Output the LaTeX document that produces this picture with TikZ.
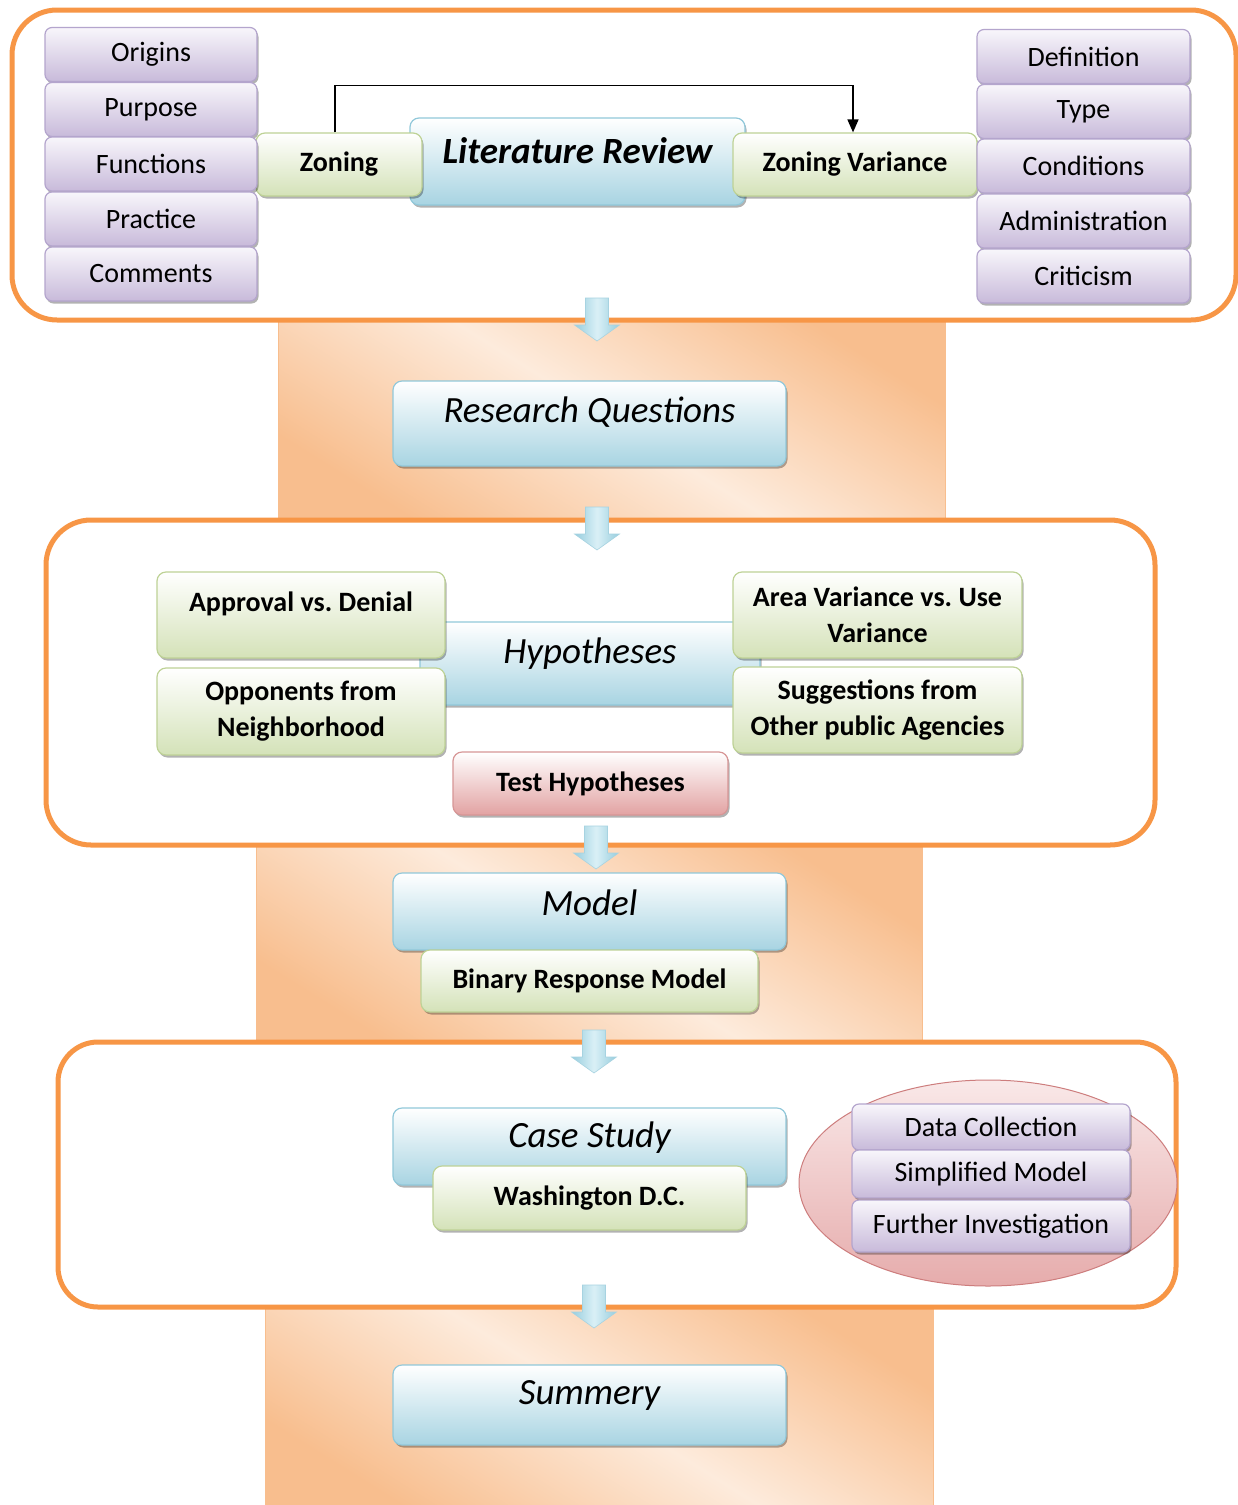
\documentclass[tikz,border=0pt]{standalone}
\usepackage{fontspec}
\setmainfont{Carlito}
\usetikzlibrary{shadows,arrows.meta,shapes.geometric}
\definecolor{frameor}{RGB}{247,150,70}
\definecolor{peachL}{RGB}{253,235,220}
\definecolor{peachD}{RGB}{248,190,142}
\definecolor{blueB}{RGB}{168,212,226}
\definecolor{blueE}{RGB}{145,200,218}
\definecolor{greenB}{RGB}{212,226,184}
\definecolor{greenE}{RGB}{190,210,150}
\definecolor{purpT}{RGB}{248,246,251}
\definecolor{purpB}{RGB}{200,186,218}
\definecolor{purpE}{RGB}{180,165,205}
\definecolor{pinkB}{RGB}{226,162,162}
\definecolor{pinkE}{RGB}{215,150,150}
\definecolor{ellT}{RGB}{249,232,232}
\definecolor{ellB}{RGB}{230,172,172}
\definecolor{ellE}{RGB}{205,125,125}
\definecolor{arT}{RGB}{218,240,246}
\definecolor{arB}{RGB}{150,205,222}
\newcommand\liftt[2]{\raisebox{#1}[\height][\depth]{#2}}
\newcommand\dnarr[2]{\draw[arrowfill] (#1-11.5,#2) -- (#1+11.5,#2) -- (#1+11.5,#2+27) -- (#1+22.5,#2+27) -- (#1,#2+43) -- (#1-22.5,#2+27) -- (#1-11.5,#2+27) -- cycle;}
\begin{document}
\begin{tikzpicture}[x=1pt,y=-1pt,
 mybox/.style={rounded corners=9pt, inner sep=2pt, line width=1.2pt, align=center,
   drop shadow={shadow xshift=1.5pt,shadow yshift=-2.5pt,opacity=0.3,fill=black}},
 bluebox/.style={mybox, draw=blueE, top color=white, bottom color=blueB, font=\itshape\fontsize{37}{40}\selectfont},
 greenbox/.style={mybox, draw=greenE, top color=white, bottom color=greenB, font=\bfseries\fontsize{28}{36}\selectfont},
 purplebox/.style={mybox, rounded corners=7pt, draw=purpE, top color=purpT, bottom color=purpB, font=\fontsize{28}{32}\selectfont},
 pinkbox/.style={mybox, draw=pinkE, top color=white, bottom color=pinkB, font=\bfseries\fontsize{28}{32}\selectfont},
 orframe/.style={draw=frameor, line width=5pt, fill=white},
 peach/.style={draw=peachD, line width=1pt, top color=peachD, bottom color=peachD, middle color=peachL, shading angle=-32},
 arrowfill/.style={draw=blueE!80, line width=0.6pt, left color=arB, right color=arB, middle color=arT},
]
\useasboundingbox (0,0) rectangle (1238,1505);
% peach backgrounds
\draw[peach] (278,320) rectangle (945,520);
\draw[peach] (256,845) rectangle (922,1045);
\draw[peach] (265,1305) rectangle (933,1505);
% frames
\draw[orframe, rounded corners=45pt] (12,10) rectangle (1236,320);
\draw[orframe, rounded corners=45pt] (46,520) rectangle (1155,845);
\draw[orframe, rounded corners=40pt] (58,1042) rectangle (1176,1307);
% --- Literature review frame
\node[bluebox, minimum width=335pt, minimum height=87pt] (lr) at (577.5,161.5) {\liftt{11pt}{\bfseries Literature Review}};
\node[greenbox, minimum width=166pt, minimum height=63pt] (zon) at (339,164.5) {Zoning};
\node[greenbox, minimum width=244pt, minimum height=63pt] (zv) at (855,164.5) {Zoning Variance};
\draw[line width=1.5pt, -{Triangle[width=11pt,length=13pt]}] ([xshift=-4pt]zon.north) -- ++(0,-47) coordinate (cturn) -| ([xshift=-2pt]zv.north);
\node[purplebox, minimum width=212pt, minimum height=54pt] (origins) at (151,54.5) {Origins};
\node[purplebox, minimum width=212pt, minimum height=54pt] (purpose) at (151,109.5) {Purpose};
\node[purplebox, minimum width=212pt, minimum height=54pt] (functions) at (151,164) {Functions};
\node[purplebox, minimum width=212pt, minimum height=54pt] (practice) at (151,219) {Practice};
\node[purplebox, minimum width=212pt, minimum height=54pt] (comments) at (151,274) {Comments};
\node[purplebox, minimum width=213pt, minimum height=54pt] (definition) at (1083.5,56.5) {Definition};
\node[purplebox, minimum width=213pt, minimum height=54pt] (type) at (1083.5,111.5) {Type};
\node[purplebox, minimum width=213pt, minimum height=54pt] (conditions) at (1083.5,166) {Conditions};
\node[purplebox, minimum width=213pt, minimum height=54pt] (admin) at (1083.5,221) {Administration};
\node[purplebox, minimum width=213pt, minimum height=54pt] (criticism) at (1083.5,276) {Criticism};
% --- Research questions
\node[bluebox, minimum width=393pt, minimum height=85pt] (rq) at (589.5,423.5) {\liftt{11pt}{Research Questions}};
% --- Hypotheses frame
\node[bluebox, minimum width=340pt, minimum height=83pt] (hyp) at (590,663.5) {\liftt{10pt}{Hypotheses}};
\node[greenbox, minimum width=288pt, minimum height=86pt] (app) at (301,615) {\liftt{11pt}{Approval vs.\ Denial}};
\node[greenbox, minimum width=288pt, minimum height=87pt] (opp) at (301,711.5) {Opponents from\\Neighborhood};
\node[greenbox, minimum width=289pt, minimum height=86pt] (area) at (877.5,615) {Area Variance vs.\ Use\\Variance};
\node[greenbox, minimum width=289pt, minimum height=86pt] (sug) at (877.5,710) {Suggestions from\\Other public Agencies};
\node[pinkbox, minimum width=275pt, minimum height=63pt] (th) at (590.5,783.5) {Test Hypotheses};
% --- Model
\node[bluebox, minimum width=393pt, minimum height=77pt] (model) at (589.5,911.5) {\liftt{9pt}{Model}};
\node[greenbox, minimum width=337pt, minimum height=62pt] (brm) at (589.5,981) {Binary Response Model};
% --- Case study frame
\node[bluebox, minimum width=393pt, minimum height=77pt] (cs) at (589.5,1146.5) {\liftt{9pt}{Case Study}};
\node[greenbox, minimum width=313pt, minimum height=64pt] (wdc) at (589.5,1198) {Washington D.C.};
\node[ellipse, draw=ellE, line width=1pt, top color=ellT, bottom color=ellB, minimum width=378pt, minimum height=206pt] (ell) at (988,1183) {};
\node[purplebox, minimum width=278pt, minimum height=46pt] (dc) at (991,1127) {Data Collection};
\node[purplebox, minimum width=278pt, minimum height=48pt] (sm) at (991,1174) {Simplified Model};
\node[purplebox, minimum width=278pt, minimum height=52pt] (fi) at (991,1226) {Further Investigation};
% --- Summary
\node[bluebox, minimum width=393pt, minimum height=80pt] (sum) at (589.5,1405) {\liftt{10pt}{Summery}};
% block arrows
\dnarr{597}{298}
\dnarr{597}{507}
\dnarr{596}{826}
\dnarr{594}{1030}
\dnarr{594}{1285}
\end{tikzpicture}
\end{document}
